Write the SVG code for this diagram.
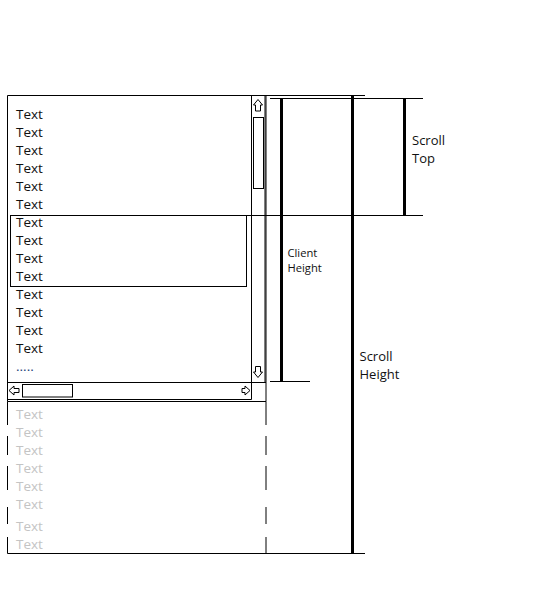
<svg xmlns="http://www.w3.org/2000/svg" width="540" height="595" viewBox="0 0 540 595">
<style>
.ln{stroke:#000;stroke-width:1;fill:none}
.thick{stroke:#000;stroke-width:3;fill:none}
.t{font-family:"Open Sans","Noto Sans",sans-serif;font-size:13.5px;fill:#111}
.f{font-family:"Open Sans","Noto Sans",sans-serif;font-size:13.5px;fill:#c4c4c4}
.lbl{font-family:"Open Sans","Noto Sans",sans-serif;font-size:13px;fill:#111}
.lbls{font-family:"Open Sans","Noto Sans",sans-serif;font-size:11.2px;fill:#111}
.ic{stroke:#000;stroke-width:1;fill:#fff;stroke-linejoin:miter}
</style>
<rect width="540" height="595" fill="#fff"/>
<g id="window">
  <line class="ln" x1="7.5" y1="95.5" x2="365" y2="95.5"/>
  <line class="ln" x1="7.5" y1="95.5" x2="7.5" y2="401.5"/>
  <line class="ln" x1="266" y1="95.5" x2="266" y2="401.5"/>
  <line class="ln" x1="7.5" y1="401.5" x2="266" y2="401.5"/>
</g>
<g id="vscroll">
  <line class="ln" x1="251.5" y1="95.5" x2="251.5" y2="399.5"/>
  <line class="ln" x1="265" y1="95.5" x2="265" y2="382.5"/>
  <rect class="ln" x="253.5" y="117.5" width="10" height="71"/>
  <polygon class="ic" points="258,99.5 262.5,105 260.5,105 260.5,111 255.5,111 255.5,105 253.5,105"/>
  <polygon class="ic" points="258,377.5 262.5,372 260.5,372 260.5,366.5 255.5,366.5 255.5,372 253.5,372"/>
</g>
<g id="hscroll">
  <line class="ln" x1="7.5" y1="382.5" x2="266" y2="382.5"/>
  <line class="ln" x1="7.5" y1="399.5" x2="251.5" y2="399.5"/>
  <rect class="ln" x="22.5" y="384.5" width="50" height="12.5"/>
  <polygon class="ic" points="9,390.5 14,386 14,388.5 19,388.5 19,392.5 14,392.5 14,395"/>
  <polygon class="ic" points="250,390.5 245,386 245,388.5 242,388.5 242,392.5 245,392.5 245,395"/>
</g>
<g id="client-box">
  <rect class="ln" x="10.5" y="215.5" width="236" height="71"/>
</g>
<g id="overflow">
  <line class="ln" x1="7.5" y1="553.5" x2="365" y2="553.5"/>
  <path class="ln" d="M7.5 401.5V425M7.5 436V455M7.5 466V490M7.5 507V524M7.5 537V553.5"/>
  <path class="ln" d="M266 401.5V425M266 436V455M266 466V490M266 507V524M266 537V553.5"/>
</g>
<g id="texts">
  <text class="t" x="16" y="118.5">Text</text>
  <text class="t" x="16" y="136.5">Text</text>
  <text class="t" x="16" y="154.5">Text</text>
  <text class="t" x="16" y="172.5">Text</text>
  <text class="t" x="16" y="190.5">Text</text>
  <text class="t" x="16" y="208.5">Text</text>
  <text class="t" x="16" y="226.5">Text</text>
  <text class="t" x="16" y="244.5">Text</text>
  <text class="t" x="16" y="262.5">Text</text>
  <text class="t" x="16" y="280.5">Text</text>
  <text class="t" x="16" y="298.5">Text</text>
  <text class="t" x="16" y="316.5">Text</text>
  <text class="t" x="16" y="334.5">Text</text>
  <text class="t" x="16" y="352.5">Text</text>
  <text class="t" x="16" y="370.5" style="fill:#1f3f7a">.....</text>
  <text class="f" x="16" y="418.5">Text</text>
  <text class="f" x="16" y="436.5">Text</text>
  <text class="f" x="16" y="454.5">Text</text>
  <text class="f" x="16" y="472.5">Text</text>
  <text class="f" x="16" y="490.5">Text</text>
  <text class="f" x="16" y="508.5">Text</text>
  <text class="f" x="16" y="530.5">Text</text>
  <text class="f" x="16" y="548.5">Text</text>
</g>
<g id="connectors">
  <line class="ln" x1="270" y1="98.5" x2="423" y2="98.5"/>
  <line class="ln" x1="246.5" y1="215.5" x2="423" y2="215.5"/>
  <line class="ln" x1="270" y1="381.5" x2="310" y2="381.5"/>
  <line class="thick" x1="281.5" y1="98" x2="281.5" y2="382"/>
  <line class="thick" x1="352.5" y1="95.5" x2="352.5" y2="553.5"/>
  <line class="thick" x1="404.5" y1="98" x2="404.5" y2="215.5"/>
</g>
<g id="label-scrolltop">
  <text class="lbl" x="412" y="144.5">Scroll</text>
  <text class="lbl" x="412" y="162.5">Top</text>
</g>
<g id="label-clientheight">
  <text class="lbls" x="287.5" y="257">Client</text>
  <text class="lbls" x="287.5" y="271.5">Height</text>
</g>
<g id="label-scrollheight">
  <text class="lbl" x="359.5" y="361">Scroll</text>
  <text class="lbl" x="359.5" y="379">Height</text>
</g>
</svg>
